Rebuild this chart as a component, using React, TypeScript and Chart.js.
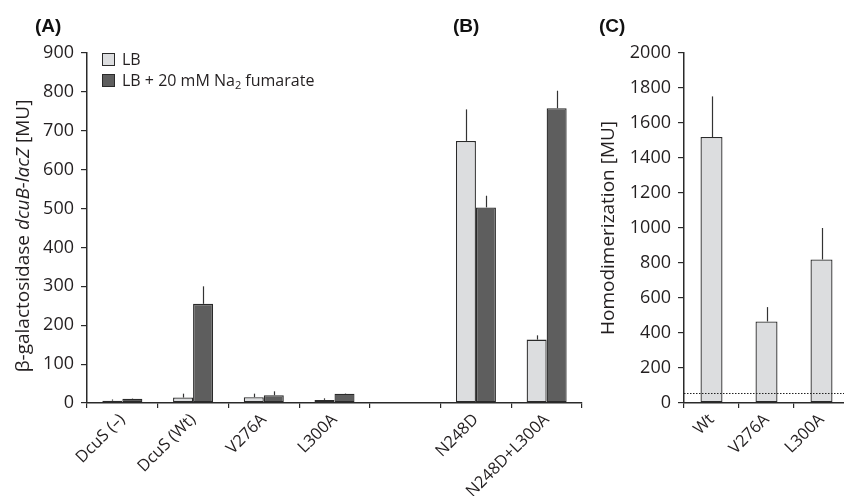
import React, { useEffect, useRef } from "react";
import { Chart, registerables } from "chart.js";

Chart.register(...registerables);

// ---------- Data: panels (A) + (B) ----------
const categoriesAB = ["DcuS (–)", "DcuS (Wt)", "V276A", "L300A", "", "N248D", "N248D+L300A"];
const lbValues = [6, 14, 15, 8, null, 674, 163];
const lbSd = [3, 10, 9, 4, null, 81, 11];
const fumValues = [11, 255, 20, 24, null, 503, 758];
const fumSd = [1, 45, 10, 1, null, 30, 45];
const yTicksAB = { min: 0, max: 900, step: 100 };

// ---------- Data: panel (C) ----------
const categoriesC = ["Wt", "V276A", "L300A"];
const homoValues = [1520, 466, 820];
const homoSd = [232, 82, 180];
const homoBackground = 60;
const yTicksC = { min: 0, max: 2000, step: 200 };

const FONT = "'Open Sans', sans-serif";
const TEXT = "#231f20";
const AXIS = "#2a2a2a";
const LIGHT = "#dcdddf";
const DARK = "#5e5e5e";
const YTICK_SIZE = 18;
const XTICK_SIZE = 16.5;
const TITLE_SIZE = 19;

function errorBars(sds: (number | null)[][]) {
  return {
    id: "errorBars",
    afterDatasetsDraw(chart: any) {
      const ctx = chart.ctx;
      const y = chart.scales.y;
      ctx.save();
      ctx.strokeStyle = "#333";
      ctx.lineWidth = 1.2;
      chart.data.datasets.forEach((ds: any, i: number) => {
        const meta = chart.getDatasetMeta(i);
        meta.data.forEach((bar: any, j: number) => {
          const v = ds.data[j];
          const sd = sds[i][j];
          if (v == null || sd == null) return;
          const top = y.getPixelForValue(v + sd);
          const x = Math.round(bar.x) + 0.5;
          ctx.beginPath();
          ctx.moveTo(x, bar.y);
          ctx.lineTo(x, top);
          ctx.stroke();
        });
      });
      ctx.restore();
    },
  };
}

function drawRichVertical(ctx: any, parts: { t: string; italic?: boolean }[], cx: number, cy: number) {
  ctx.save();
  ctx.translate(cx, cy);
  ctx.rotate(-Math.PI / 2);
  ctx.fillStyle = TEXT;
  ctx.textBaseline = "middle";
  ctx.textAlign = "left";
  const fonts = parts.map((p) => `${p.italic ? "italic " : ""}${TITLE_SIZE}px ${FONT}`);
  let total = 0;
  parts.forEach((p, i) => {
    ctx.font = fonts[i];
    total += ctx.measureText(p.t).width;
  });
  let x = -total / 2;
  parts.forEach((p, i) => {
    ctx.font = fonts[i];
    ctx.fillText(p.t, x, 0);
    x += ctx.measureText(p.t).width;
  });
  ctx.restore();
}

const decorAB = {
  id: "decorAB",
  afterDraw(chart: any) {
    const ctx = chart.ctx;
    const a = chart.chartArea;
    // y-axis title with italic gene name
    drawRichVertical(
      ctx,
      [{ t: "β-galactosidase " }, { t: "dcuB-lacZ", italic: true }, { t: " [MU]" }],
      24,
      (a.top + a.bottom) / 2 + 8
    );
    // panel labels
    ctx.save();
    ctx.fillStyle = "#111";
    ctx.font = `bold 19px 'Liberation Sans', Arial, sans-serif`;
    ctx.textBaseline = "middle";
    ctx.textAlign = "left";
    ctx.fillText("(A)", 35, 27);
    ctx.fillText("(B)", 453, 27);
    ctx.restore();
    // legend
    ctx.save();
    const bx = a.left + 15;
    const size = 12;
    chart.data.datasets.forEach((ds: any, i: number) => {
      const by = a.top + i * 21;
      ctx.fillStyle = ds.backgroundColor;
      ctx.fillRect(bx, by, size, size);
      ctx.strokeStyle = AXIS;
      ctx.lineWidth = 1;
      ctx.strokeRect(bx + 0.5, by + 0.5, size, size);
      ctx.fillStyle = TEXT;
      ctx.textBaseline = "middle";
      ctx.textAlign = "left";
      const parts = String(ds.label).split("₂");
      let tx = bx + size + 8;
      const ty = by + size / 2 + 1;
      ctx.font = `16px ${FONT}`;
      ctx.fillText(parts[0], tx, ty);
      tx += ctx.measureText(parts[0]).width;
      if (parts.length > 1) {
        ctx.font = `11px ${FONT}`;
        ctx.fillText("2", tx, ty + 5);
        tx += ctx.measureText("2").width;
        ctx.font = `16px ${FONT}`;
        ctx.fillText(parts[1], tx, ty);
      }
    });
    ctx.restore();
  },
};

const decorC = {
  id: "decorC",
  afterDatasetsDraw(chart: any) {
    const ctx = chart.ctx;
    const a = chart.chartArea;
    const y = chart.scales.y.getPixelForValue(homoBackground);
    ctx.save();
    ctx.strokeStyle = "#222";
    ctx.lineWidth = 1;
    ctx.setLineDash([1.5, 1.5]);
    ctx.beginPath();
    ctx.moveTo(a.left, Math.round(y) + 0.5);
    ctx.lineTo(a.right, Math.round(y) + 0.5);
    ctx.stroke();
    ctx.restore();
  },
  afterDraw(chart: any) {
    const ctx = chart.ctx;
    const a = chart.chartArea;
    drawRichVertical(ctx, [{ t: "Homodimerization [MU]" }], 19, (a.top + a.bottom) / 2);
    ctx.save();
    ctx.fillStyle = "#111";
    ctx.font = `bold 19px 'Liberation Sans', Arial, sans-serif`;
    ctx.textBaseline = "middle";
    ctx.textAlign = "left";
    ctx.fillText("(C)", 9, 27);
    ctx.restore();
  },
};

function scales(yt: { min: number; max: number; step: number }, yWidth: number) {
  return {
    x: {
      offset: true,
      grid: {
        offset: true,
        drawOnChartArea: false,
        drawTicks: true,
        tickLength: 5,
        color: AXIS,
        lineWidth: 1.2,
      },
      border: { display: true, color: AXIS, width: 1.5 },
      ticks: {
        color: TEXT,
        font: { family: FONT, size: XTICK_SIZE },
        minRotation: 45,
        maxRotation: 45,
        padding: 2,
        autoSkip: false,
      },
      afterFit: (s: any) => {
        s.height = 93;
      },
    },
    y: {
      min: yt.min,
      max: yt.max,
      grid: {
        drawOnChartArea: false,
        drawTicks: true,
        tickLength: 6,
        color: AXIS,
        lineWidth: 1.2,
      },
      border: { display: true, color: AXIS, width: 1.5 },
      ticks: {
        stepSize: yt.step,
        color: TEXT,
        font: { family: FONT, size: YTICK_SIZE },
        padding: 7,
        callback: (v: any) => String(v),
      },
      afterFit: (s: any) => {
        s.width = yWidth;
      },
    },
  };
}

const barStyle = {
  borderColor: AXIS,
  borderWidth: 1.3,
  borderSkipped: false,
  barPercentage: 1,
};

export default function App() {
  const leftRef = useRef<HTMLCanvasElement>(null);
  const rightRef = useRef<HTMLCanvasElement>(null);

  useEffect(() => {
    const left = new Chart(leftRef.current as HTMLCanvasElement, {
      type: "bar",
      data: {
        labels: categoriesAB,
        datasets: [
          {
            label: "LB",
            data: lbValues as any,
            backgroundColor: LIGHT,
            categoryPercentage: 0.566,
            ...barStyle,
          } as any,
          {
            label: "LB + 20 mM Na₂ fumarate",
            data: fumValues as any,
            backgroundColor: DARK,
            categoryPercentage: 0.566,
            ...barStyle,
          } as any,
        ],
      },
      options: {
        responsive: false,
        animation: false,
        layout: { padding: { top: 53, right: 18, left: 0, bottom: 0 } },
        plugins: { legend: { display: false }, tooltip: { enabled: false }, title: { display: false } },
        scales: scales(yTicksAB, 87) as any,
      },
      plugins: [errorBars([lbSd, fumSd]), decorAB],
    });

    const right = new Chart(rightRef.current as HTMLCanvasElement, {
      type: "bar",
      data: {
        labels: categoriesC,
        datasets: [
          {
            label: "Homodimerization",
            data: homoValues,
            backgroundColor: LIGHT,
            categoryPercentage: 0.4,
            ...barStyle,
          } as any,
        ],
      },
      options: {
        responsive: false,
        animation: false,
        layout: { padding: { top: 53, right: 5, left: 0, bottom: 0 } },
        plugins: { legend: { display: false }, tooltip: { enabled: false }, title: { display: false } },
        scales: scales(yTicksC, 94) as any,
      },
      plugins: [errorBars([homoSd]), decorC],
    });

    return () => {
      left.destroy();
      right.destroy();
    };
  }, []);

  return (
    <div
      style={{
        position: "absolute",
        left: 0,
        top: 0,
        width: 844,
        height: 496,
        overflow: "hidden",
        background: "#fff",
      }}
    >
      <canvas ref={leftRef} width={600} height={496} style={{ position: "absolute", left: 0, top: 0 }} />
      <canvas ref={rightRef} width={264} height={496} style={{ position: "absolute", left: 590, top: 0 }} />
    </div>
  );
}
